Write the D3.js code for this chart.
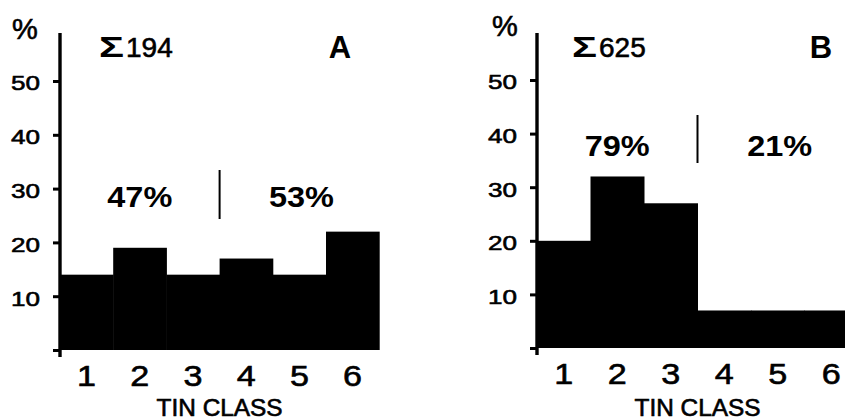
<!DOCTYPE html>
<html>
<head>
<meta charset="utf-8">
<script src="https://cdn.jsdelivr.net/npm/d3@7"></script>
<style>
  html, body { margin: 0; padding: 0; background: #fff; }
  svg { display: block; font-family: "Liberation Sans", Arial, Helvetica, sans-serif; }
  .heavy { stroke: #000; stroke-width: 0.6px; }
</style>
</head>
<body>
<svg id="chart" width="845" height="420"></svg>
<script>
// TIN class distributions (% of samples), two panels
const classes = [1, 2, 3, 4, 5, 6];
const valuesA = [14, 19, 14, 17, 14, 22];
const valuesB = [20, 32, 27, 7, 7, 7];
const totalA = 194;
const totalB = 625;
const yTicks = [0, 10, 20, 30, 40, 50];
const panelNames = ["A", "B"];
const xTitle = "TIN CLASS";

const svg = d3.select("#chart");

const panels = [
  { name: panelNames[0], values: valuesA, total: totalA,
    left: 60, band: 53.2, y0: 350, y50: 81, top: 33,
    pctX: 12, pctY: 39, sigX: 99, nameX: 340, groupY: 207, divTop: 170, divBot: 219 },
  { name: panelNames[1], values: valuesB, total: totalB,
    left: 537, band: 53.5, y0: 348, y50: 80, top: 33,
    pctX: 492, pctY: 36, sigX: 572, nameX: 821, groupY: 156, divTop: 115, divBot: 163 }
];

panels.forEach(p => {
  const g = svg.append("g");
  const x = d3.scaleBand().domain(classes).range([p.left, p.left + p.band * classes.length]).padding(0);
  const y = d3.scaleLinear().domain([0, 50]).range([p.y0, p.y50]);

  // bars
  g.selectAll("rect.bar").data(p.values).join("rect")
    .attr("class", "bar")
    .attr("x", (d, i) => x(classes[i]))
    .attr("width", x.bandwidth() + 0.5)
    .attr("y", d => y(d))
    .attr("height", d => y(0) - y(d))
    .attr("fill", "#000");

  // y axis
  const yAxis = d3.axisLeft(y).tickValues(yTicks).tickSize(7).tickPadding(13)
    .tickFormat(d => d === 0 ? "" : d);
  const ya = g.append("g").attr("transform", `translate(${p.left},0)`).call(yAxis);
  ya.select(".domain").remove();
  ya.selectAll(".tick line").attr("stroke", "#000").attr("stroke-width", 3);
  ya.selectAll(".tick text")
    .attr("font-size", 21).attr("fill", "#000").attr("class", "heavy")
    .attr("dy", "0.42em")
    .attr("font-family", "Liberation Sans, Arial, sans-serif")
    .each(function (d) {
      const s = d === 0 ? "" : String(d);
      if (s) d3.select(this).attr("textLength", 14.5 * s.length).attr("lengthAdjust", "spacingAndGlyphs");
    });
  g.append("line")
    .attr("x1", p.left).attr("x2", p.left)
    .attr("y1", p.top).attr("y2", p.y0 + 7)
    .attr("stroke", "#000").attr("stroke-width", 3.4);

  // x axis labels
  const xa = g.append("g").attr("transform", `translate(0,${p.y0})`)
    .call(d3.axisBottom(x).tickSize(0).tickPadding(36));
  xa.select(".domain").remove();
  xa.selectAll(".tick text").attr("font-size", 29).attr("fill", "#000")
    .attr("class", "heavy").attr("dy", 0)
    .attr("textLength", 19).attr("lengthAdjust", "spacingAndGlyphs")
    .attr("font-family", "Liberation Sans, Arial, sans-serif");

  g.append("text").attr("x", x(4)).attr("y", 416)
    .attr("text-anchor", "middle").attr("font-size", 23).attr("class", "heavy")
    .attr("textLength", 126).attr("lengthAdjust", "spacingAndGlyphs")
    .text(xTitle);

  // % unit
  g.append("text").attr("x", p.pctX).attr("y", p.pctY).attr("class", "heavy")
    .attr("font-size", 29).text("%");

  // sample total
  g.append("text").attr("x", p.sigX).attr("y", 57)
    .attr("font-size", 30).attr("font-weight", "bold")
    .attr("textLength", 25).attr("lengthAdjust", "spacingAndGlyphs")
    .text("Σ");
  g.append("text").attr("x", p.sigX + 27).attr("y", 57)
    .attr("font-size", 28).attr("class", "heavy")
    .text(p.total);

  // panel letter
  g.append("text").attr("x", p.nameX).attr("y", 58)
    .attr("text-anchor", "middle").attr("font-weight", "bold").attr("font-size", 31)
    .text(p.name);

  // group shares: classes 1-3 vs 4-6
  const low = d3.sum(p.values.slice(0, 3));
  const high = d3.sum(p.values.slice(3));
  [[2, low, 0], [5, high, 2]].forEach(([cls, v, dx]) => {
    g.append("text").attr("x", x(cls) + x.bandwidth() / 2 + dx).attr("y", p.groupY)
      .attr("text-anchor", "middle").attr("font-weight", "bold").attr("font-size", 30)
      .attr("textLength", 65).attr("lengthAdjust", "spacingAndGlyphs")
      .text(v + "%");
  });
  g.append("line")
    .attr("x1", x(4)).attr("x2", x(4))
    .attr("y1", p.divTop).attr("y2", p.divBot)
    .attr("stroke", "#000").attr("stroke-width", 2);
});
</script>
</body>
</html>
